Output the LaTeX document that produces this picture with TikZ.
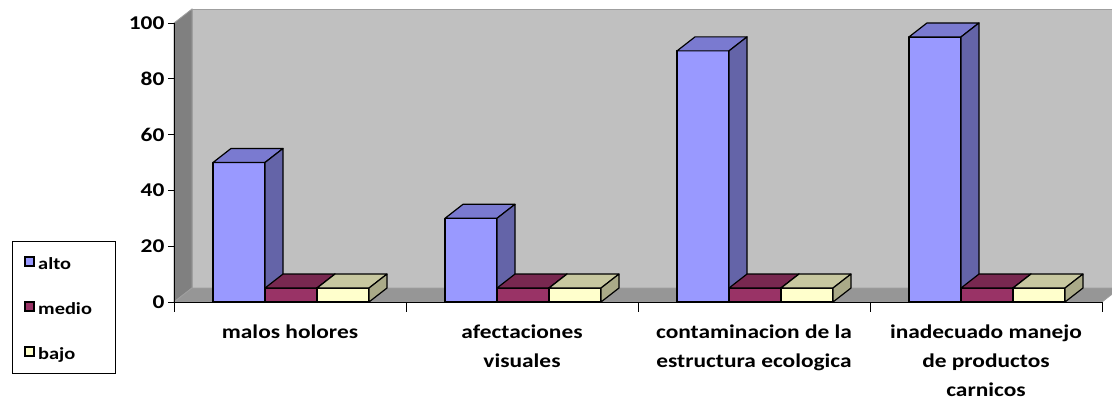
\documentclass[tikz,border=0pt]{standalone}
\usepackage{fontspec}
\setmainfont{Carlito}[FakeStretch=1.2]

\definecolor{backwall}{HTML}{C0C0C0}
\definecolor{sidewall}{HTML}{808080}
\definecolor{floorgray}{HTML}{969696}
\definecolor{alto-front}{HTML}{9999FF}
\definecolor{alto-top}{HTML}{7A7AD0}
\definecolor{alto-side}{HTML}{6464A8}
\definecolor{medio-front}{HTML}{993366}
\definecolor{medio-top}{HTML}{782850}
\definecolor{medio-side}{HTML}{5E1F3F}
\definecolor{bajo-front}{HTML}{FFFFCC}
\definecolor{bajo-top}{HTML}{C8C8A0}
\definecolor{bajo-side}{HTML}{AAAA88}

\begin{document}
\begin{tikzpicture}[x=1pt,y=1pt,
  lab/.style={font=\bfseries\fontsize{19.5}{29}\selectfont,align=center,anchor=north,inner sep=0pt},
  num/.style={font=\bfseries\fontsize{19.5}{23}\selectfont,anchor=east},
  key/.style={font=\bfseries\fontsize{17}{20}\selectfont,anchor=base west,inner sep=0pt},
  bar/.style={draw=black,line width=1.2pt,line join=round},
  wall/.style={draw=gray!75,line width=0.8pt}]
\useasboundingbox (-174,-100) rectangle (938,302);
\clip (-174,-100) rectangle (938,302);
% walls and floor
\filldraw[wall,fill=sidewall] (0,0) -- (18,14) -- (18,293) -- (0,279) -- cycle;
\filldraw[wall,fill=backwall] (18,14) rectangle (960,293);
\filldraw[wall,fill=floorgray] (0,0) -- (18,14) -- (946,14) -- (928,0) -- cycle;
% axes
\draw[line width=0.8pt] (0,0) -- (0,279);
\foreach \t in {0,20,...,100} {
  \draw[line width=0.8pt] (-6,\t*2.79) -- (0,\t*2.79);
  \node[num] (n\t) at (-6,\t*2.79) {\t};
}
\draw[line width=0.8pt] (0,0) -- (928,0);
\foreach \x in {0,232,...,928} \draw[line width=0.8pt] (\x,0) -- (\x,-10);
% bars
\foreach \v [count=\i from 0] in {50,30,90,95}
  \foreach \s/\k/\h in {alto/0/\v,medio/1/5,bajo/2/5} {
    \coordinate (b) at (232*\i+39+52*\k,0);
    \filldraw[bar,fill=\s-front] (b) rectangle ++(52,\h*2.79);
    \filldraw[bar,fill=\s-top] (b) ++(0,\h*2.79) -- ++(18,14) -- ++(52,0) -- ++(-18,-14) -- cycle;
    \filldraw[bar,fill=\s-side] (b) ++(52,0) -- ++(18,14) -- ++(0,\h*2.79) -- ++(-18,-14) -- cycle;
  }
% category labels
\foreach \t [count=\i from 0] in {malos holores,afectaciones\\visuales,
    contaminacion de la\\estructura ecologica,inadecuado manejo\\de productos\\carnicos}
  \node[lab] (c\i) at (116+232*\i,-23) {\t};
% legend
\draw[line width=0.8pt] (-162,-71) rectangle (-59,61);
\foreach \s/\y in {alto/33,medio/-12,bajo/-57} {
  \filldraw[draw=black,line width=1.3pt,fill=\s-front] (-149,\y+3) rectangle ++(9,9);
  \node[key] (k-\s) at (-136,\y) {\s};
}
\end{tikzpicture}
\end{document}
